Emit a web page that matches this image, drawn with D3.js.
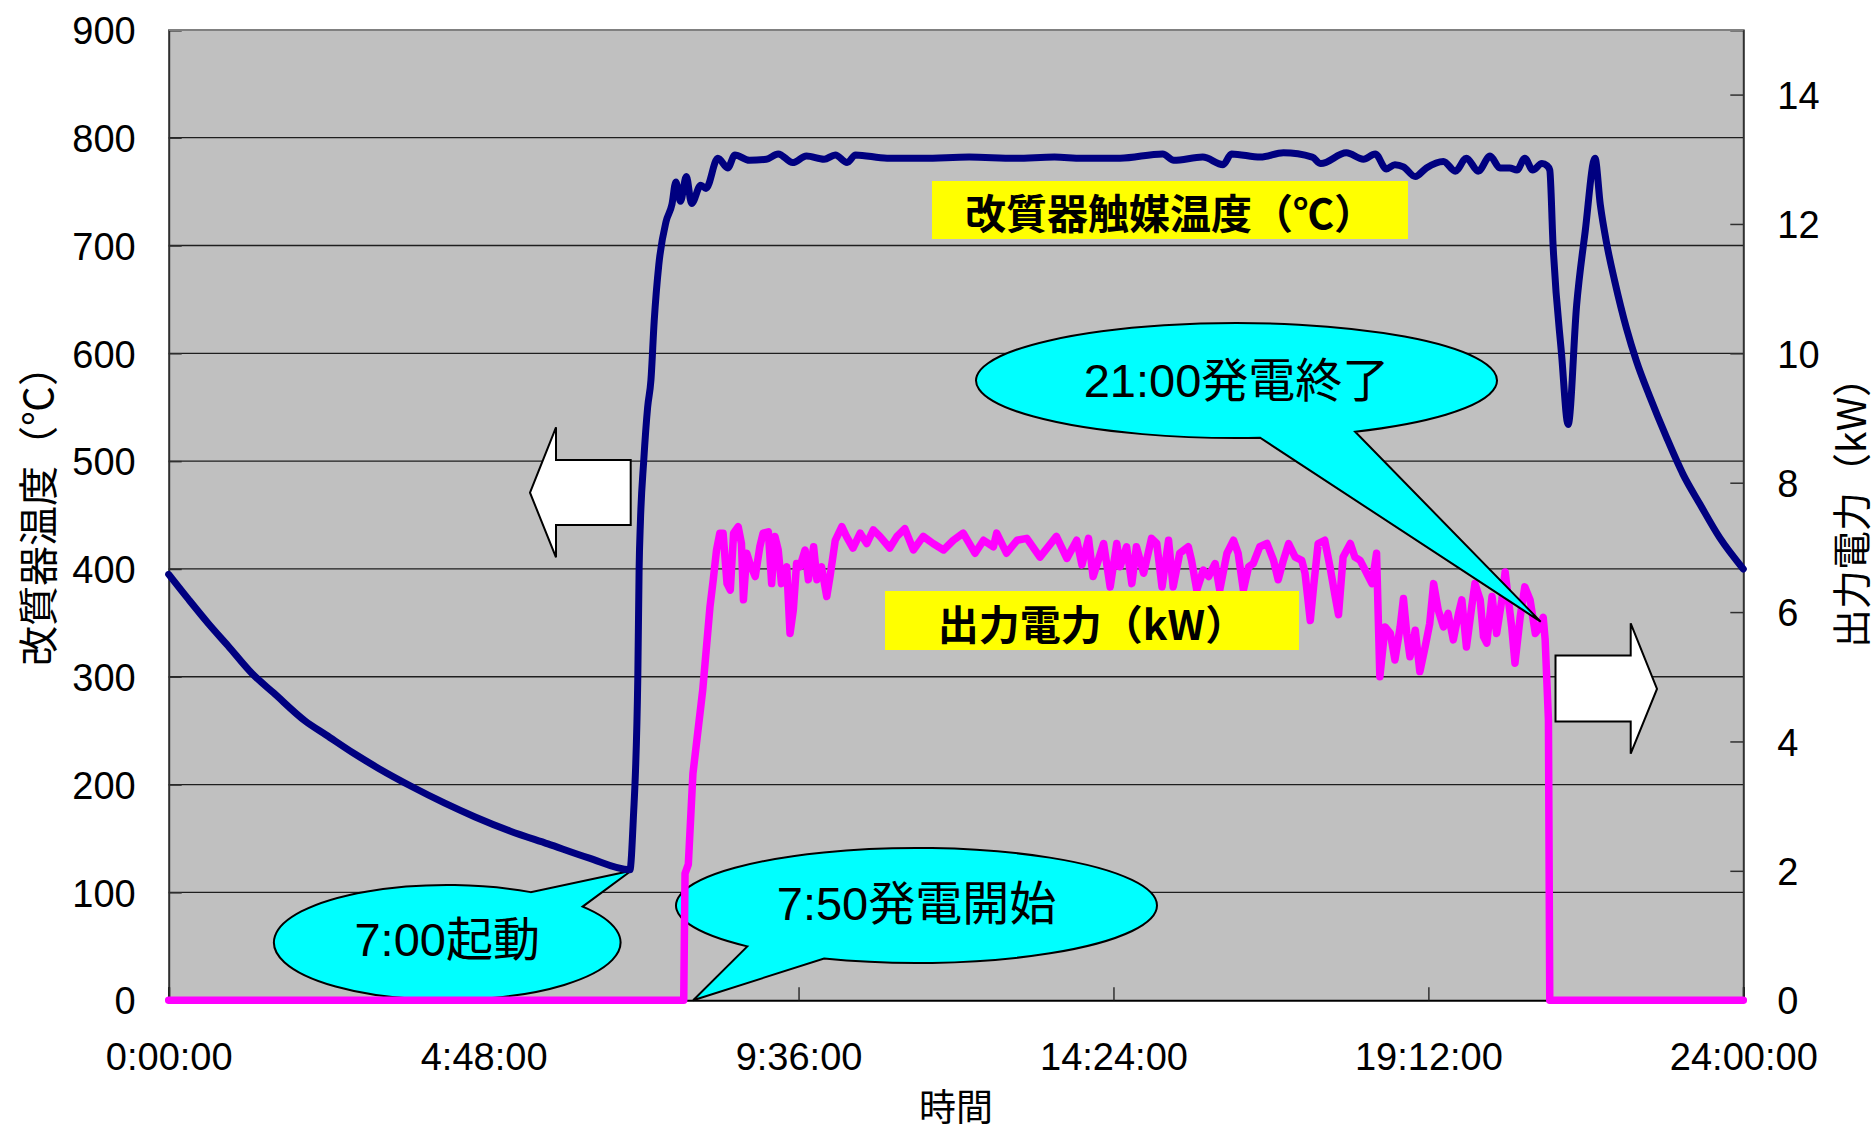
<!DOCTYPE html>
<html><head><meta charset="utf-8">
<script src="https://cdn.jsdelivr.net/npm/d3@7/dist/d3.min.js"></script>
<style>
html,body{margin:0;padding:0;background:#fff;}
svg{display:block;}
text{font-family:"Liberation Sans","Noto Sans CJK JP",sans-serif;fill:#000;}
.cjk{font-family:"Noto Sans CJK JP","Liberation Sans",sans-serif;}
</style></head>
<body>
<svg id="chart" width="1876" height="1132"></svg>
<script>
// ---------- data ----------
const xTickHours = [0, 4.8, 9.6, 14.4, 19.2, 24];
const xTickLabels = ["0:00:00", "4:48:00", "9:36:00", "14:24:00", "19:12:00", "24:00:00"];
const leftTicks = [0, 100, 200, 300, 400, 500, 600, 700, 800, 900];
const rightTicks = [0, 2, 4, 6, 8, 10, 12, 14];

// reformer catalyst temperature (°C) vs time (hours)
const tempTime = [0.00,0.30,0.61,0.90,1.27,1.60,2.08,2.40,2.82,3.20,3.71,4.20,4.67,5.20,5.78,6.40,7.03,7.08,7.15,7.17,7.19,7.24,7.30,7.35,7.40,7.47,7.58,7.67,7.73,7.80,7.89,7.97,8.11,8.19,8.37,8.52,8.63,8.85,9.11,9.29,9.51,9.72,9.99,10.16,10.34,10.47,10.95,11.50,12.20,12.90,13.50,13.92,14.50,15.15,15.32,15.76,16.07,16.20,16.64,16.99,17.43,17.56,17.95,18.21,18.39,18.56,18.69,18.82,19.00,19.17,19.43,19.61,19.78,19.96,20.14,20.29,20.44,20.55,20.67,20.79,20.93,21.01,21.05,21.10,21.23,21.33,21.46,21.59,21.74,21.82,21.92,22.04,22.22,22.37,22.58,22.83,23.08,23.34,23.64,24.00];
const tempValue = [395,372,349,329,303,285,259,246,229,215,198,183,170,157,145,132,121,166,299,400,444,500,550,575,630,682,722,738,759,741,764,739,756,753,781,772,784,779,780,785,777,783,780,784,777,784,781,781,782,781,782,781,781,785,779,782,775,785,782,786,782,776,786,780,785,771,775,773,764,772,778,769,781,769,783,772,772,770,781,770,776,774,770,701,599,534,645,713,781,738,701,667,623,593,559,522,488,460,429,400];

// output power (kW) vs time (hours)
const powerTime = [0,7.85,7.87,7.92,7.99,8.14,8.25,8.30,8.35,8.40,8.45,8.51,8.56,8.61,8.68,8.73,8.76,8.81,8.86,8.94,9.01,9.06,9.14,9.19,9.24,9.29,9.34,9.42,9.47,9.52,9.57,9.62,9.70,9.75,9.83,9.88,9.95,10.03,10.08,10.16,10.26,10.33,10.43,10.54,10.64,10.74,10.84,10.99,11.10,11.22,11.35,11.50,11.65,11.81,11.96,12.11,12.29,12.42,12.57,12.62,12.77,12.93,13.08,13.28,13.53,13.69,13.84,13.92,14.02,14.09,14.25,14.35,14.45,14.50,14.60,14.68,14.75,14.86,14.98,15.06,15.14,15.24,15.31,15.41,15.54,15.59,15.67,15.77,15.85,15.95,16.02,16.13,16.23,16.30,16.38,16.46,16.53,16.63,16.74,16.84,16.91,16.99,17.07,17.17,17.27,17.32,17.40,17.45,17.52,17.62,17.70,17.78,17.83,17.90,18.01,18.08,18.16,18.26,18.34,18.41,18.46,18.54,18.62,18.69,18.77,18.82,18.87,18.92,19.00,19.07,19.15,19.22,19.28,19.35,19.43,19.50,19.58,19.66,19.71,19.78,19.86,19.91,19.99,20.04,20.09,20.17,20.24,20.32,20.37,20.42,20.47,20.52,20.60,20.67,20.75,20.83,20.90,20.95,20.98,21.03,21.05,24];
const powerValue = [0,0,1.96,2.1,3.5,4.8,6.08,6.50,6.96,7.22,7.22,6.44,6.34,7.22,7.32,7.06,6.19,6.91,6.75,6.55,7.01,7.22,7.24,6.44,7.17,6.96,6.44,6.70,5.67,6.03,6.75,6.70,6.96,6.50,7.01,6.50,6.70,6.24,6.55,7.11,7.32,7.17,6.99,7.22,7.06,7.27,7.17,6.99,7.17,7.29,6.96,7.17,7.06,6.96,7.11,7.22,6.91,7.11,7.01,7.22,6.91,7.11,7.14,6.85,7.17,6.83,7.11,6.73,7.14,6.55,7.06,6.39,7.06,6.70,7.01,6.44,7.01,6.60,7.14,7.06,6.39,7.11,6.39,6.91,7.01,6.80,6.34,6.65,6.55,6.75,6.34,6.91,7.11,6.91,6.34,6.70,6.75,7.01,7.06,6.80,6.50,6.80,7.06,6.85,6.80,6.60,5.87,6.39,7.06,7.11,6.70,6.24,5.96,6.85,7.06,6.85,6.80,6.60,6.44,6.91,5.00,5.77,5.67,5.26,5.77,6.21,5.67,5.31,5.72,5.08,5.46,5.82,6.44,6.03,5.77,5.98,5.57,5.98,6.19,5.46,6.08,6.44,6.19,5.62,5.52,6.24,5.67,6.19,6.62,6.19,5.77,5.21,5.93,6.39,6.19,5.67,5.77,5.92,5.57,4.33,0,0];

const titleLeft = "改質器温度（℃）";
const titleRight = "出力電力（kW）";
const titleX = "時間";
const labelTemp = "改質器触媒温度（℃）";
const labelPower = "出力電力（kW）";
const callStart = "7:00起動";
const callGen = "7:50発電開始";
const callEnd = "21:00発電終了";

// ---------- layout ----------
const L = 168.7, R = 1743.3, T = 29.9, B = 1000.2;
const svg = d3.select("#chart");
const x = d3.scaleLinear().domain([0, 24]).range([L, R]);
const yL = d3.scaleLinear().domain([0, 900]).range([B, T]);
const yR = d3.scaleLinear().domain([0, 15]).range([B, T]);

// plot background
svg.append("rect").attr("x", L).attr("y", T).attr("width", R - L).attr("height", B - T)
  .attr("fill", "#c0c0c0");

// gridlines
svg.append("g").selectAll("line").data(leftTicks.filter(d => d > 0)).join("line")
  .attr("x1", L).attr("x2", R).attr("y1", d => yL(d)).attr("y2", d => yL(d))
  .attr("stroke", d => d === 900 ? "#808080" : "#1e1e1e").attr("stroke-width", d => d === 900 ? 2 : 1.3);

// axes
const axL = d3.axisLeft(yL).tickValues(leftTicks).tickSize(-13).tickPadding(33).tickFormat(d3.format("d"));
const gL = svg.append("g").attr("transform", `translate(${L},0)`).call(axL);
const axR = d3.axisRight(yR).tickValues(rightTicks).tickSize(-13).tickPadding(34).tickFormat(d3.format("d"));
const gR = svg.append("g").attr("transform", `translate(${R},0)`).call(axR);
const axB = d3.axisBottom(x).tickValues(xTickHours).tickSize(-13).tickPadding(56)
  .tickFormat((d, i) => xTickLabels[i]);
const gB = svg.append("g").attr("transform", `translate(0,${B})`).call(axB);
[gL, gR, gB].forEach(g => {
  g.select(".domain").attr("stroke", "#303030").attr("stroke-width", 2);
  g.selectAll(".tick line").attr("stroke", "#303030").attr("stroke-width", 1.5);
  g.selectAll(".tick text").attr("font-size", 38).attr("font-family", "Liberation Sans");
});
gL.selectAll(".tick text").attr("dy", "0.36em");
gR.selectAll(".tick text").attr("dy", "0.36em").attr("text-anchor", "start");
gB.selectAll(".tick text").attr("dy", "0.36em");
gB.select(".domain").attr("stroke", "#000");

// axis titles
svg.append("text").attr("class", "cjk").attr("transform", "translate(36,506) rotate(-90)")
  .attr("text-anchor", "middle").attr("dominant-baseline", "central").attr("font-size", 40).text(titleLeft);
svg.append("text").attr("class", "cjk").attr("transform", "translate(1849,503) rotate(-90)")
  .attr("text-anchor", "middle").attr("dominant-baseline", "central").attr("font-size", 39).text(titleRight);
svg.append("text").attr("class", "cjk").attr("x", 956).attr("y", 1105)
  .attr("text-anchor", "middle").attr("dominant-baseline", "central").attr("font-size", 37).text(titleX);

// callout helper: ellipse with tail
function callout(cx, cy, rx, ry, a1, a2, tip, label, fs, ty) {
  const p = a => [cx + rx * Math.cos(a * Math.PI / 180), cy + ry * Math.sin(a * Math.PI / 180)];
  const s = p(a1), e = p(a2);
  const d = `M${s[0]},${s[1]} A${rx},${ry} 0 1 1 ${e[0]},${e[1]} L${tip[0]},${tip[1]} Z`;
  svg.append("path").attr("d", d).attr("fill", "#00ffff").attr("stroke", "#000").attr("stroke-width", 2)
    .attr("stroke-linejoin", "miter");
  svg.append("text").attr("x", cx).attr("y", ty).attr("text-anchor", "middle")
    .attr("dominant-baseline", "central").attr("font-size", fs).text(label);
}

// callouts beneath the lines
callout(447.2, 942.5, 173.3, 57.5, -38.6, -61.2, [631.2, 870.7], callStart, 47, 939);
callout(916.5, 905.5, 240.5, 57.5, 134.7, 112.6, [693.2, 1000.2], callGen, 47, 903);

// lines
const tempLine = d3.line().x((d, i) => x(tempTime[i])).y(d => yL(d)).curve(d3.curveMonotoneX);
const powLine = d3.line().x((d, i) => x(powerTime[i])).y(d => yR(d));
svg.append("path").attr("d", powLine(powerValue)).attr("fill", "none").attr("stroke", "#ff00ff")
  .attr("stroke-width", 7.5).attr("stroke-linejoin", "round").attr("stroke-linecap", "round");
svg.append("path").attr("d", tempLine(tempValue)).attr("fill", "none").attr("stroke", "#000080")
  .attr("stroke-width", 7).attr("stroke-linejoin", "round").attr("stroke-linecap", "round");

// yellow labels
function yellow(x0, y0, w, h, label, fs) {
  svg.append("rect").attr("x", x0).attr("y", y0).attr("width", w).attr("height", h).attr("fill", "#ffff00");
  svg.append("text").attr("class", "cjk").attr("x", x0 + w / 2).attr("y", y0 + h / 2 + 1)
    .attr("text-anchor", "middle").attr("dominant-baseline", "central").attr("font-size", fs)
    .attr("font-weight", "bold").text(label);
}
yellow(932, 181, 476, 58, labelTemp, 41);
yellow(885, 591, 414, 59, labelPower, 41);

// end callout above lines
callout(1236.5, 380.5, 260.5, 57.5, 84.8, 62.9, [1540.7, 621.7], callEnd, 47, 380);

// block arrows
function arrow(pts) {
  svg.append("path").attr("d", "M" + pts.map(p => p.join(",")).join("L") + "Z")
    .attr("fill", "#fff").attr("stroke", "#000").attr("stroke-width", 2).attr("stroke-linejoin", "miter");
}
arrow([[530, 492.7], [556, 427.3], [556, 460], [630.7, 460], [630.7, 525], [556, 525], [556, 557.3]]);
arrow([[1657, 688.9], [1630.7, 623.3], [1630.7, 655.6], [1555.5, 655.6], [1555.5, 721.4], [1630.7, 721.4], [1630.7, 753.7]]);

// top border of plot
svg.append("line").attr("x1", L).attr("x2", R).attr("y1", T).attr("y2", T).attr("stroke", "#808080").attr("stroke-width", 2);
</script>
</body></html>
